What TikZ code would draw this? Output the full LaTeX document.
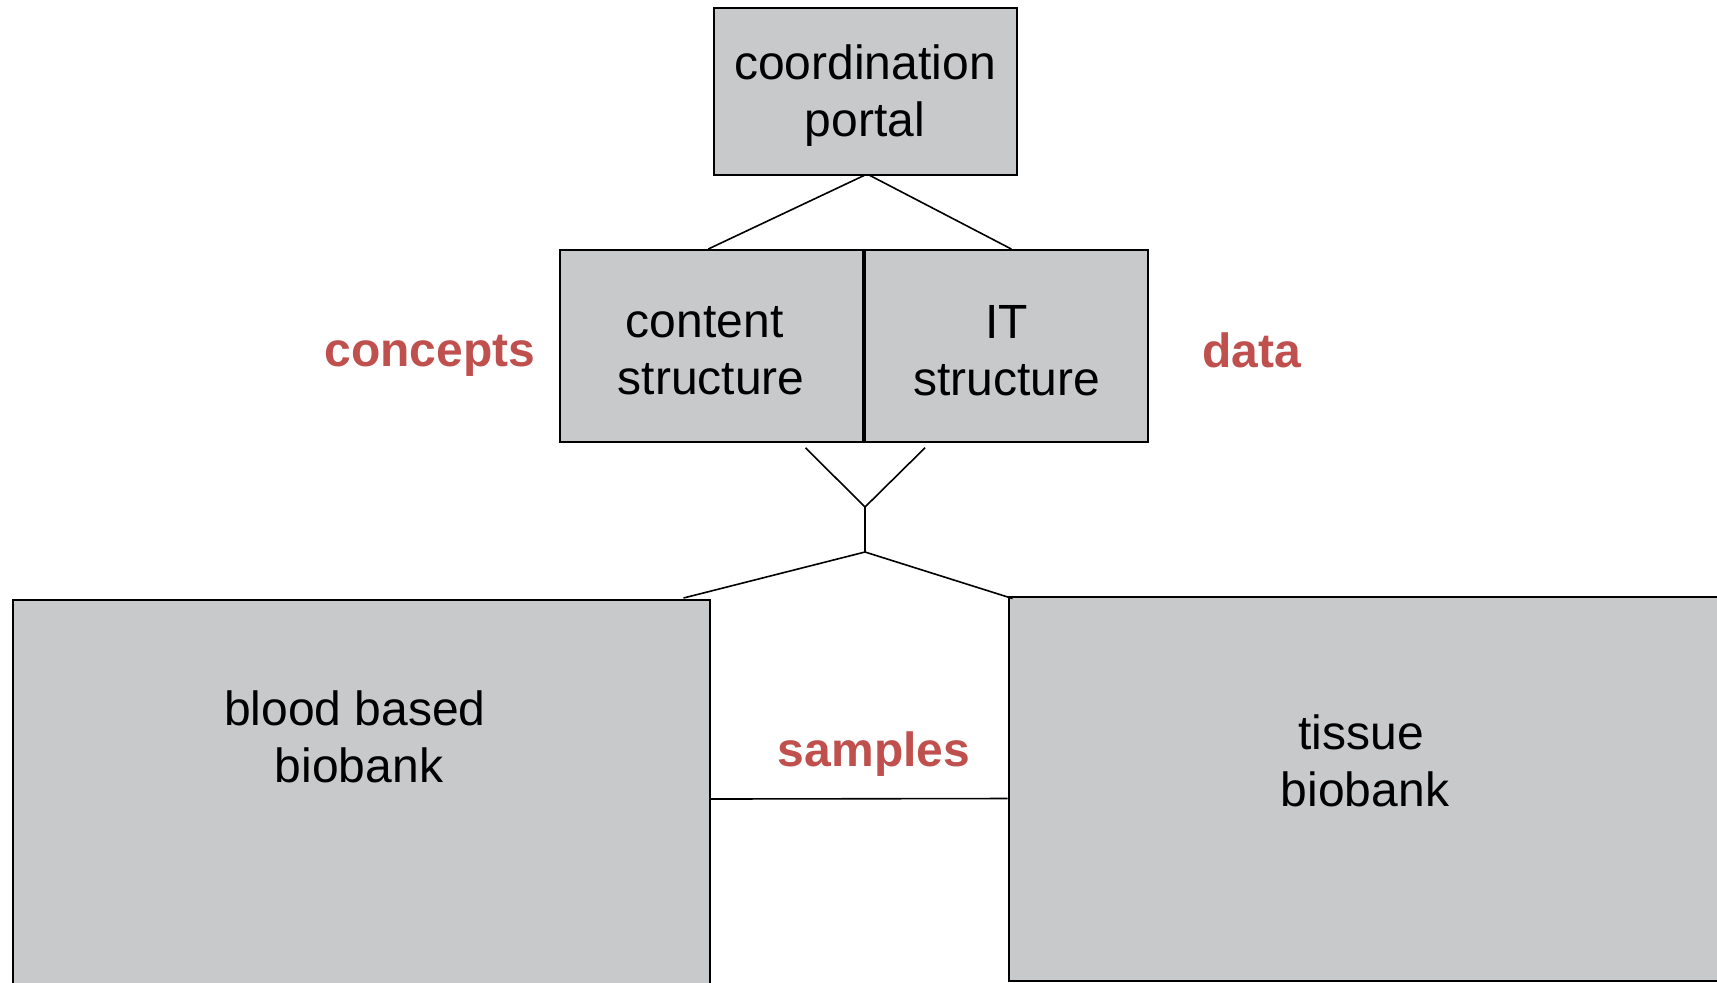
\documentclass[tikz,border=0pt]{standalone}
\usepackage{fontspec}
\setmainfont{Liberation Sans}
\usepackage{xcolor}
\usepackage{tikz}
\usetikzlibrary{calc, positioning}

\definecolor{boxgray}{RGB}{200,201,203}
\definecolor{labelred}{RGB}{192,80,77}

\begin{document}
\begin{tikzpicture}[x=0.5pt, y=-0.5pt,
    box/.style={draw=black, fill=boxgray, line width=1pt, rectangle, inner sep=0pt},
    boxtext/.style={align=center, font=\fontsize{24}{28.5}\selectfont},
    inbox/.style={label={[boxtext, yshift=-2.4pt]center:#1}},
    redlabel/.style={text=labelred, font=\fontsize{24}{28.5}\selectfont\bfseries},
    link/.style={draw=black, line width=0.8pt}]
    % page size of the original slide
    \useasboundingbox (0,0) rectangle (1717,982);
    \clip (0,0) rectangle (1717,982);

    % top box
    \node[box, minimum width=151.5pt, minimum height=83.5pt,
        inbox={coordination\\portal}] (portal) at (865,91) {};

    % middle pair of boxes
    \node[box, minimum width=151.3pt, minimum height=95.85pt,
        inbox={content\hspace*{6.5pt}\\structure}] (content) at (711.2,345.9) {};
    \node[box, minimum width=141.35pt, minimum height=95.85pt,
        inbox={IT\\structure}] (it) at (1006.4,345.9) {};

    % the two biobanks (run off the page)
    \node[box, anchor=north west, minimum width=348.25pt, minimum height=260pt] (blood) at (12,599) {};
    \node[box, anchor=north west, minimum width=376.25pt, minimum height=192pt] (tissue) at (1007.5,595.5) {};
    \node[boxtext] (bloodtxt) at (355,737) {blood based\\\hspace*{4pt}biobank};
    \node[boxtext] (tissuetxt) at (1361,761) {tissue\\\hspace*{4pt}biobank};

    % red labels
    \node[redlabel] (concepts) at (430,355.5) {concepts};
    \node[redlabel] (data) at (1251.5,350) {data};
    \node[redlabel] (samples) at (874,754.5) {samples};

    % connectors
    \draw[link] ($(portal.south)+(-1,0)$) -- ($(content.north)+(-3,0)$);
    \draw[link] ($(portal.south)+(5,0)$) -- ($(it.north)+(5,0)$);

    \coordinate (join) at (865,507);
    \coordinate (fork) at (865,552);
    \draw[link] ($(content.south east)+(-58,5)$) -- (join) -- ($(it.south west)+(61,5)$);
    \draw[link] (join) -- (fork);
    \draw[link] ($(blood.north east)+(-27,-1)$) -- (fork) -- ($(tissue.north west)+(5,3)$);

    \draw[link] ($(blood.north east)+(0,200)$) -- ($(tissue.north west)+(0,203)$);
\end{tikzpicture}
\end{document}
